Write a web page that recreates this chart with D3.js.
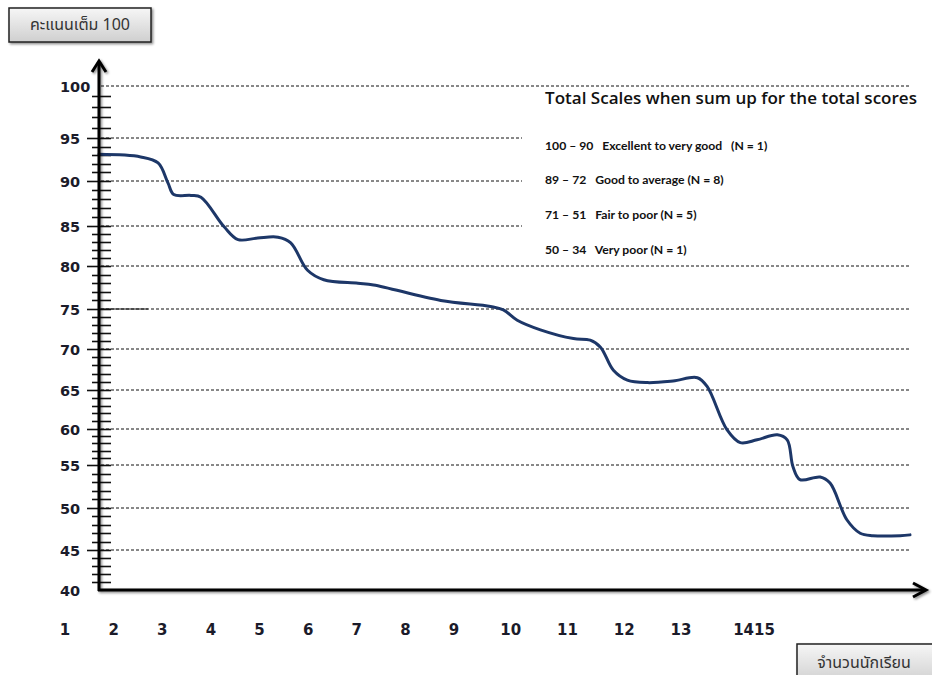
<!DOCTYPE html>
<html><head><meta charset="utf-8">
<script src="https://cdn.jsdelivr.net/npm/d3@7"></script>
<style>body{margin:0;background:#fff}</style>
</head><body><svg id="c" width="932" height="675"></svg>
<script>
// ---- data ----
const yTickValues = [40,45,50,55,60,65,70,75,80,85,90,95,100];
const xLabels = ["1","2","3","4","5","6","7","8","9","10","11","12","13","1415"];
const curveX = [1.0,1.72,2.02,2.19,2.29,2.59,2.76,3.16,3.40,3.74,4.09,4.31,4.60,4.88,5.47,5.74,6.90,7.76,7.98,8.22,8.62,9.19,9.48,9.66,9.88,10.12,10.47,10.91,11.33,11.50,11.84,12.07,12.36,12.71,12.88,12.98,13.10,13.45,13.62,13.91,14.14,14.36,14.83,15.0];
const curveY = [93.1,92.8,92.1,89.8,88.5,88.4,88.2,84.9,83.3,83.5,83.6,82.9,79.5,78.4,78.0,77.8,76.0,75.3,74.9,73.6,72.4,71.3,71.1,70.2,67.4,66.2,65.9,66.1,66.5,65.4,59.9,58.1,58.5,59.2,58.5,54.8,53.3,53.6,52.9,48.6,47.0,46.7,46.7,46.8];
const legendTitle = "Total Scales when sum up for the total scores";
const legendRows = ["100 – 90   Excellent to very good   (N = 1)","89 – 72   Good to average (N = 8)","71 – 51   Fair to poor (N = 5)","50 – 34   Very poor (N = 1)"];
const yAxisTitle = "คะแนนเต็ม 100";
const xAxisTitle = "จำนวนนักเรียน";

// ---- layout ----
const svg = d3.select("#c");
svg.append("rect").attr("width",932).attr("height",675).attr("fill","#fff");
const defs = svg.append("defs");
const f = defs.append("filter").attr("id","sh").attr("x","-20%").attr("y","-20%").attr("width","140%").attr("height","140%");
f.append("feDropShadow").attr("dx",1.5).attr("dy",1.5).attr("stdDeviation",1).attr("flood-color","#000").attr("flood-opacity",0.45);
const gr = defs.append("linearGradient").attr("id","btn").attr("x1",0).attr("y1",0).attr("x2",0).attr("y2",1);
gr.append("stop").attr("offset","0%").attr("stop-color","#f6f6f6");
gr.append("stop").attr("offset","100%").attr("stop-color","#cfcfcf");

const axisX = 99, axisY = 590, plotRight = 910;
const y = d3.scaleLinear().domain(yTickValues).range([590,550,508,465,429,390,349,309,266,226,181,138,86]);
const xc = d3.scaleLinear().domain([1,15]).range([axisX, plotRight]);
const xl = d3.scaleLinear().domain([0,8,12,13]).range([65,454,681,754]);

const legendLeft = 545;

// gridlines
const gridVals = yTickValues.filter(v => v > 40);
svg.append("g").selectAll("line").data(gridVals).join("line")
  .attr("x1", axisX+2)
  .attr("x2", v => (v > 80 && v < 100) ? legendLeft - 23 : plotRight)
  .attr("y1", v => y(v)).attr("y2", v => y(v))
  .attr("stroke","#111").attr("stroke-width",1).attr("stroke-dasharray","3,2");
svg.append("line").attr("x1",axisX).attr("x2",148).attr("y1",y(75)).attr("y2",y(75)).attr("stroke","#111").attr("stroke-width",1);

// minor ticks
svg.append("g").selectAll("line").data(d3.range(41,100)).join("line")
  .attr("x1", v => v % 5 === 0 ? axisX-12 : axisX-7)
  .attr("x2", axisX+12)
  .attr("y1", v => Math.round(y(v))+0.5).attr("y2", v => Math.round(y(v))+0.5)
  .attr("stroke","#111").attr("stroke-width",1.6);

// y labels via axis
const gy = svg.append("g").attr("transform",`translate(${axisX},0)`)
  .call(d3.axisLeft(y).tickValues(yTickValues).tickSize(0).tickFormat(d3.format("d")));
gy.select(".domain").remove();
gy.selectAll("text").attr("x",-39).attr("text-anchor","start").attr("dy","0.36em")
  .attr("font-family","DejaVu Sans, Verdana, sans-serif").attr("font-weight","bold").attr("font-size",14.5).attr("fill","#1b1b2a");

// x labels
svg.append("g").selectAll("text").data(xLabels).join("text")
  .attr("x",(d,i)=>xl(i)).attr("y",635).attr("text-anchor","middle")
  .attr("font-family","DejaVu Sans, Verdana, sans-serif").attr("font-weight","bold").attr("font-size",15).attr("fill","#1b1b2a")
  .text(d=>d);

// curve
const pts = curveX.map((d,i)=>[d,curveY[i]]);
svg.append("path").datum(pts)
  .attr("d", d3.line().x(d=>xc(d[0])).y(d=>y(d[1])).curve(d3.curveCatmullRom.alpha(0.5)))
  .attr("fill","none").attr("stroke","#1d3768").attr("stroke-width",3).attr("stroke-linejoin","round").attr("stroke-linecap","round");

// axes with arrows
const ax = svg.append("g").attr("filter","url(#sh)").attr("stroke","#000").attr("stroke-width",3).attr("fill","none");
ax.append("line").attr("x1",axisX).attr("x2",axisX).attr("y1",axisY+1).attr("y2",62);
ax.append("polyline").attr("points",`${axisX-7},72 ${axisX},61 ${axisX+7},72`).attr("stroke-linejoin","miter");
ax.append("line").attr("x1",axisX-1).attr("x2",925).attr("y1",axisY).attr("y2",axisY);
ax.append("polyline").attr("points",`913,583 926,${axisY} 913,597`);

// legend
svg.append("text").attr("x",legendLeft).attr("y",104)
  .attr("font-family","'Open Sans', Lato, sans-serif").attr("font-weight",600).attr("font-size",16.5).attr("fill","#111")
  .attr("textLength",372).attr("lengthAdjust","spacingAndGlyphs")
  .text(legendTitle);
const rowY = [150,184,219,254];
svg.append("g").selectAll("text").data(legendRows).join("text")
  .attr("x",legendLeft).attr("y",(d,i)=>rowY[i])
  .attr("font-family","Lato, 'Open Sans', sans-serif").attr("font-weight","bold").attr("font-size",12.2).attr("fill","#111")
  .style("white-space","pre").text(d=>d);

// buttons
function button(x0,y0,w,h,label,cx,cy){
  svg.append("rect").attr("x",x0).attr("y",y0).attr("width",w).attr("height",h)
    .attr("fill","url(#btn)").attr("stroke","#222").attr("stroke-width",1.5).attr("filter","url(#sh)");
  svg.append("text").attr("x",cx).attr("y",cy).attr("text-anchor","middle").attr("dominant-baseline","central")
    .attr("font-family","Tahoma, 'Noto Sans Thai', 'Noto Sans', sans-serif").attr("font-size",16).attr("fill","#333").text(label);
}
button(9,8,142,34,yAxisTitle,80,25);
button(797,644,145,40,xAxisTitle,864,663);
</script></body></html>
